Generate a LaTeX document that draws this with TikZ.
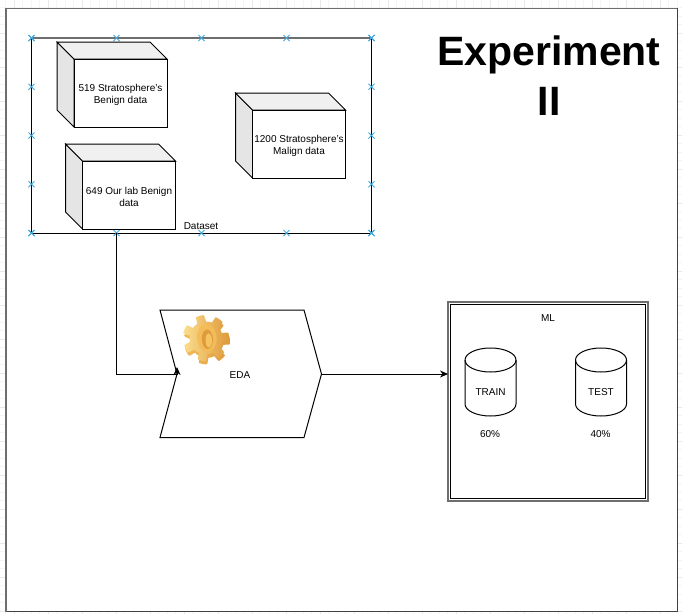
\documentclass[tikz,border=0pt]{standalone}
\usepackage{fontspec}
\setmainfont{Liberation Sans}
\usetikzlibrary{arrows.meta,calc,shapes.misc}
\definecolor{edgegray}{HTML}{6E6E6E}
\definecolor{markblue}{HTML}{3FA9E0}
\definecolor{gearlight}{HTML}{FBDD8C}
\definecolor{gearmid}{HTML}{F3BC58}
\definecolor{geardark}{HTML}{DE9A3C}
\begin{document}
\begin{tikzpicture}[x=1pt,y=-1pt,line width=1pt]
    \tikzset {
        label text/.style = {font=\fontsize{10}{12}\selectfont, align=center, inner sep=0pt},
        plain box/.style = {draw, inner sep=0pt, outer sep=0pt},
        mark cross/.style = {cross out, draw=markblue, line width=1pt, minimum size=5pt, inner sep=0pt},
        link/.style = {-{Stealth[length=8pt,width=7pt]}},
        data cube/.pic = {
            \filldraw[fill=gray!20] (0,0) -- (-17,-17) -- (-17,51) -- (0,68) -- cycle;
            \filldraw[fill=gray!12] (0,0) -- (-17,-17) -- (76,-17) -- (93,0) -- cycle;
            \node[plain box, fill=white, anchor=north west, minimum width=93pt, minimum height=68pt] (-face) at (0,0) {};
            \node[label text] (-text) at (46.5,35.5) {#1};
        },
        data drum/.pic = {
            \filldraw[fill=white] (0,0) -- (0,44) arc[x radius=25.5, y radius=12, start angle=180, end angle=0]
                -- (51,0) arc[x radius=25.5, y radius=12, start angle=0, end angle=-180] -- cycle;
            \draw (0,0) arc[x radius=25.5, y radius=12, start angle=180, end angle=0];
        },
        gear part/.pic = {
            \shade[left color=#1, right color=geardark] plot[domain=0:360, samples=200]
                ({min(23,max(16.5,19.5+14*cos(7*\x+20)))*cos(\x)},{min(23,max(16.5,19.5+14*cos(7*\x+20)))*sin(\x)}) -- cycle;
        }
    }
    \useasboundingbox (0,0) rectangle (682,614);
    % sheet grid round the page
    \foreach \gx in {5.5,14,...,680} { \draw[black!4, line width=.6pt] (\gx,0) -- (\gx,614); }
    \foreach \gy in {7.5,16,...,612} { \draw[black!4, line width=.6pt] (0,\gy) -- (682,\gy); }
    \foreach \gx in {14,48,...,680} { \draw[black!9, line width=.6pt] (\gx,0) -- (\gx,614); }
    \foreach \gy in {33,67,...,612} { \draw[black!9, line width=.6pt] (0,\gy) -- (682,\gy); }
    \node[plain box, draw=black!75, fill=white, anchor=north west, minimum width=671pt, minimum height=603pt]
        (page) at (6,8.5) {};
    \draw[edgegray, line width=1.6pt] (page.south west) -- (page.north west) -- (page.north east);
    \node[font=\bfseries\fontsize{41}{50}\selectfont, align=center, inner sep=0pt] (title) at (549,76) {Experiment\\II};
    % dataset group
    \node[plain box, anchor=north west, minimum width=340pt, minimum height=195pt] (dataset) at (31.5,38) {};
    \draw[edgegray, line width=1.6pt] (dataset.north west) -- (dataset.north east);
    \foreach \i in {0,...,4} {
        \node[mark cross] (topmark\i) at ($(dataset.north west)!\i/4!(dataset.north east)$) {};
        \node[mark cross] (lowmark\i) at ($(dataset.south west)!\i/4!(dataset.south east)$) {};
        \node[mark cross] (leftmark\i) at ($(dataset.north west)!\i/4!(dataset.south west)$) {};
        \node[mark cross] (rightmark\i) at ($(dataset.north east)!\i/4!(dataset.south east)$) {};
    }
    \path (74,59) pic (benign) {data cube={519 Stratosphere's\\Benign data}};
    \path (82.5,161) pic (ourlab) {data cube={649 Our lab Benign\\data}};
    \path (252.5,110) pic (malign) {data cube={1200 Stratosphere's\\Malign data}};
    \node[label text] (datasetlabel) at (201,226) {Dataset};
    % EDA step
    \coordinate (edain) at (177,374);
    \coordinate (edaout) at (321.5,374);
    \draw (160,310) -- (304,310) -- (edaout) -- (304,437.5) -- (160,437.5) -- (edain) -- cycle;
    \node[label text] (eda) at (240,375) {EDA};
    \begin{scope}[shift={(206,338)}, yslant=-0.1, xscale=.92, yscale=1.08]
        \path (1,3) pic {gear part=gearmid};
        \path (0,0) pic {gear part=gearlight};
        \fill[gearmid] (1,0) ellipse[x radius=10.5, y radius=13];
        \fill[geardark] (1.5,1) ellipse[x radius=6, y radius=9];
        \fill[gearmid!80!gearlight] (3,2) ellipse[x radius=3.5, y radius=6.5];
    \end{scope}
    % ML box
    \node[plain box, draw=edgegray, line width=1.6pt, anchor=north west, minimum width=200pt, minimum height=199pt] (mlbox) at (448,302) {};
    \node[plain box, minimum width=195pt, minimum height=194pt] (mlinner) at (mlbox.center) {};
    \node[label text] (ml) at (548,318) {ML};
    \path (465,360) pic (train) {data drum};
    \path (575.5,360) pic (test) {data drum};
    \node[label text] (trainlabel) at (490.5,392.5) {TRAIN};
    \node[label text] (testlabel) at (601,392.5) {TEST};
    \node[label text] (trainpart) at (490,434) {60\%};
    \node[label text] (testpart) at (600.5,434) {40\%};
    % connectors
    \draw[link] (lowmark1.center) |- (edain) -- ++(0,-7);
    \draw[link] (edaout) -- (edaout -| mlbox.west);
\end{tikzpicture}
\end{document}
